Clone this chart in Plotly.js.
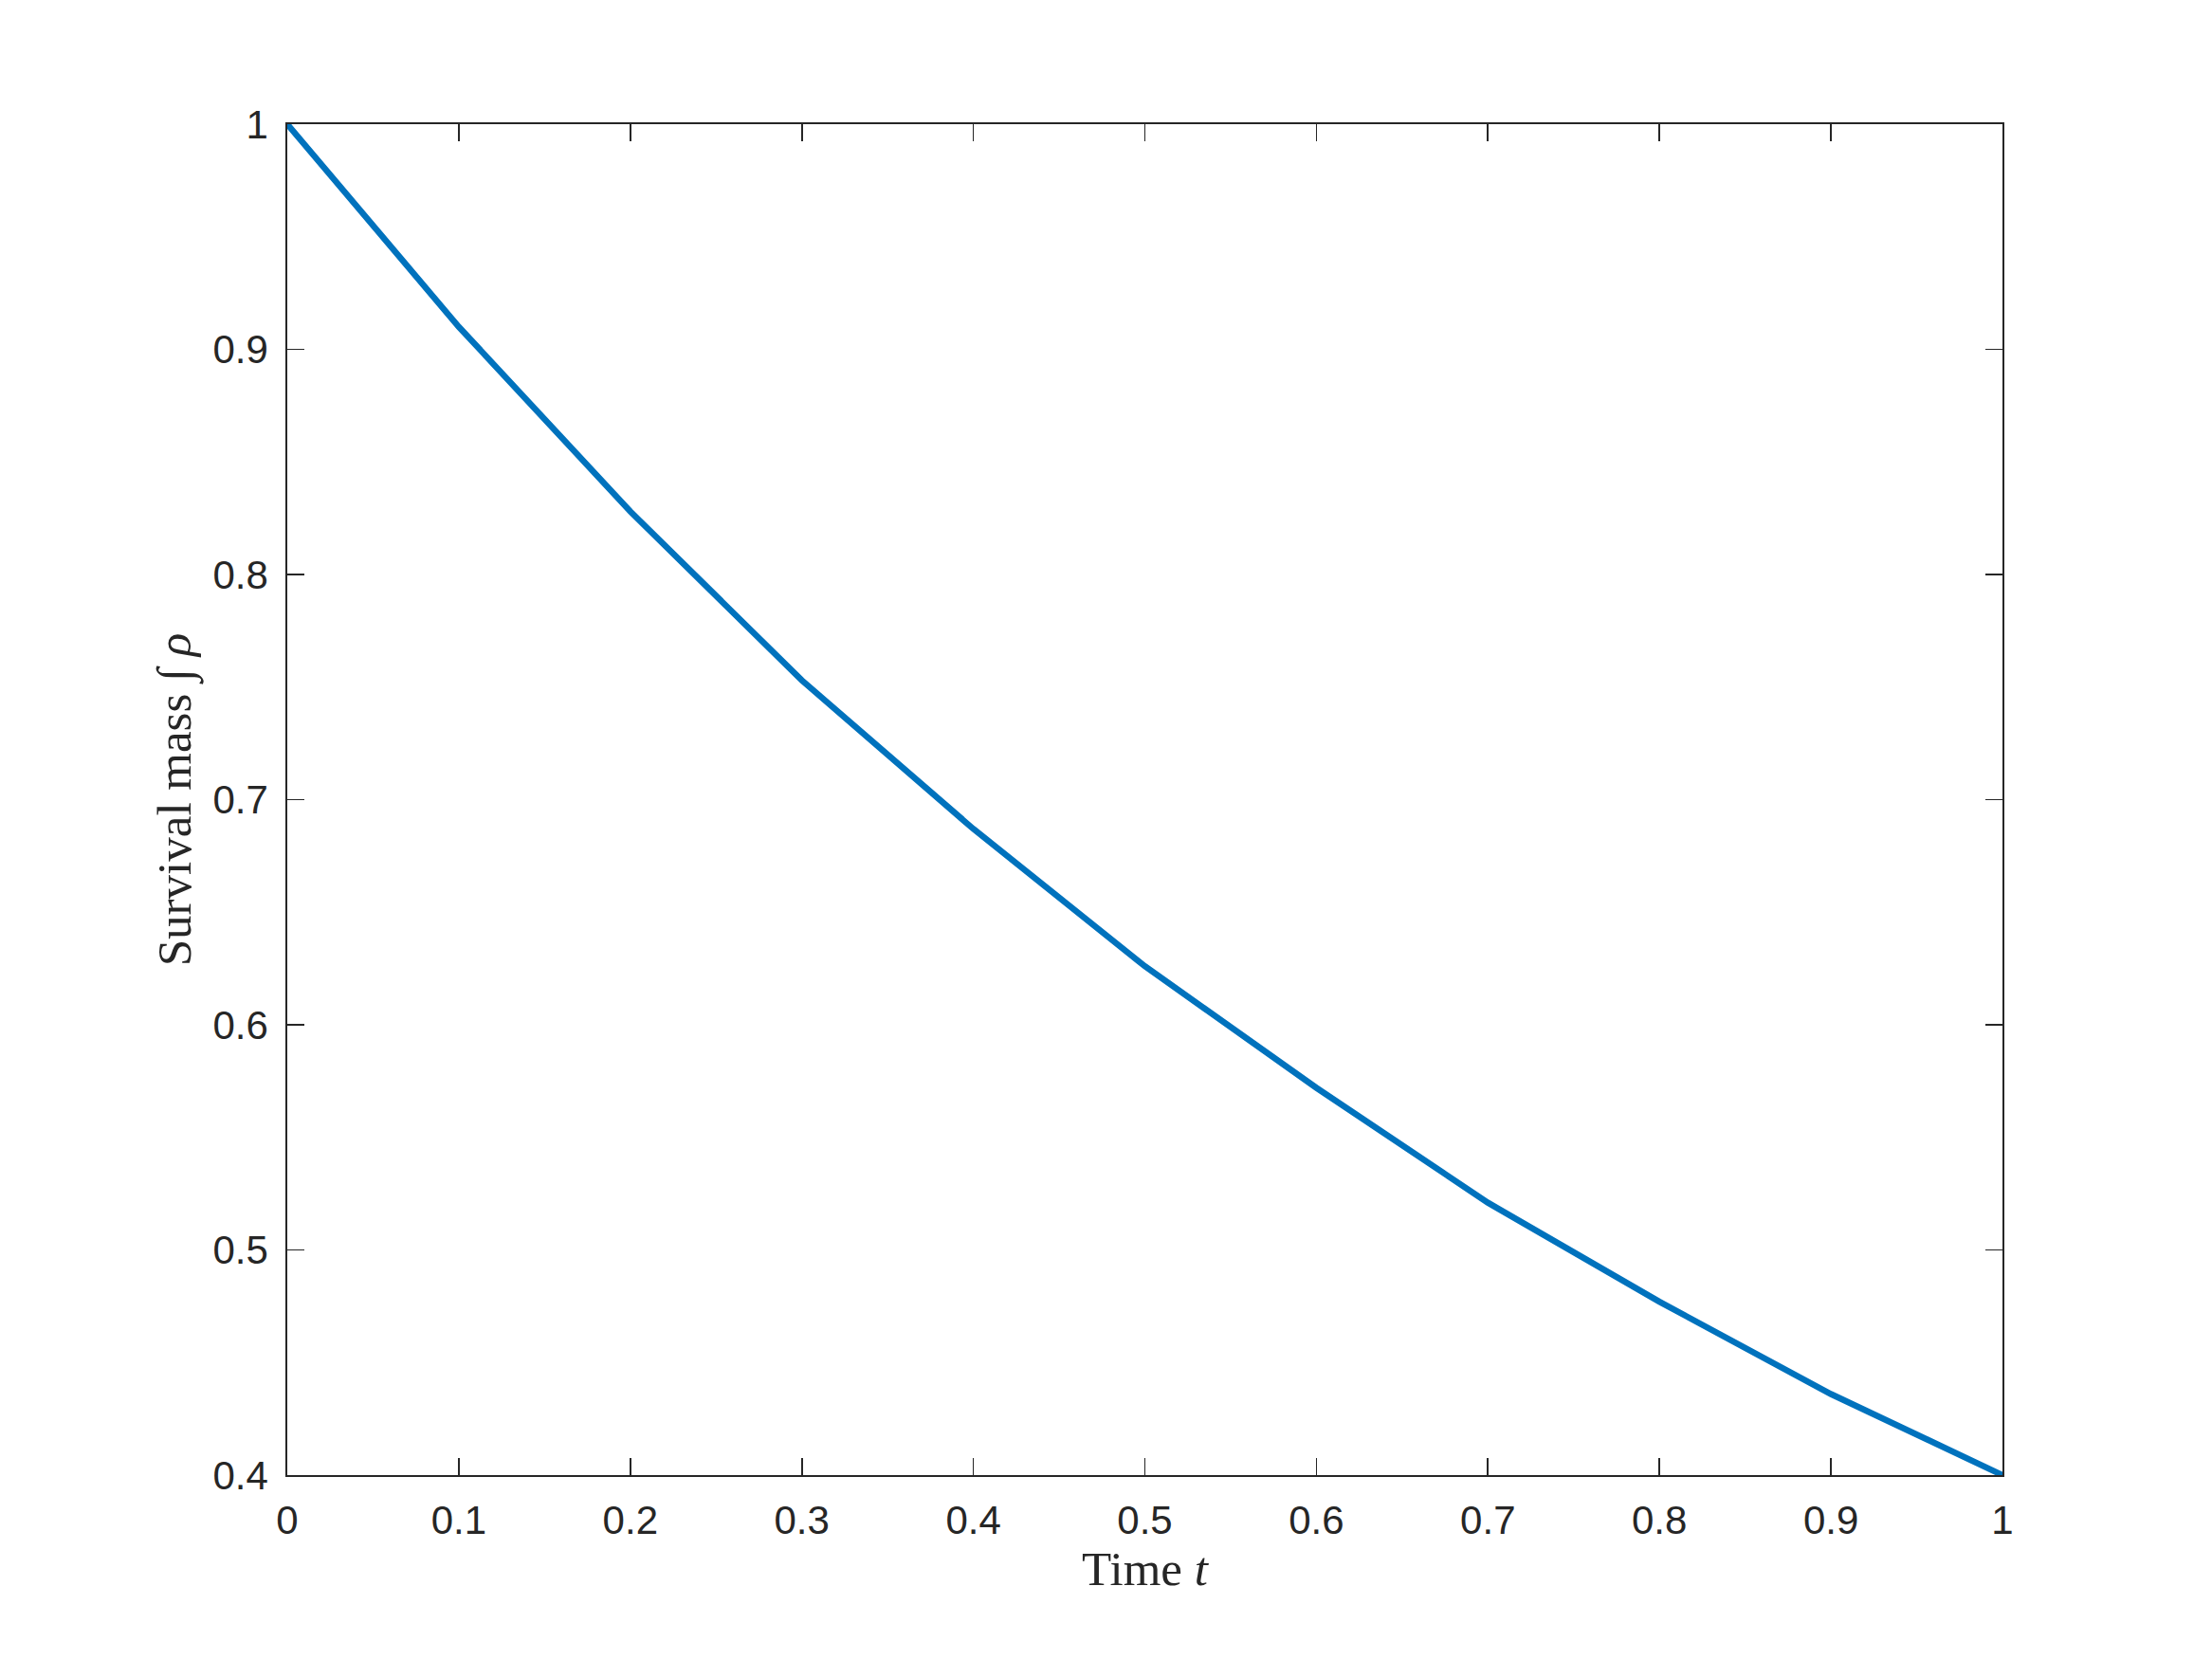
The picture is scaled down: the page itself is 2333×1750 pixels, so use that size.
<!DOCTYPE html>
<html>
<head>
<meta charset="utf-8">
<script src="https://cdn.plot.ly/plotly-3.0.1.min.js"></script>
<style>
  body { margin: 0; background: #fff; }
  #chart { width: 2333px; height: 1750px; }
</style>
</head>
<body>
<div id="chart"></div>
<script>
// survival mass over time
var time = [0, 0.1, 0.2, 0.3, 0.4, 0.5, 0.6, 0.7, 0.8, 0.9, 1.0];
var mass = [1.0, 0.910, 0.828, 0.753, 0.687, 0.626, 0.572, 0.521, 0.477, 0.436, 0.400];

var CHART = document.getElementById('chart');

var trace = {
  x: time,
  y: mass,
  type: 'scatter',
  mode: 'lines',
  line: {color: '#0072BD', width: 6.5},
  hoverinfo: 'skip'
};

var axisCommon = {
  showline: true,
  linecolor: '#262626',
  linewidth: 1.8,
  mirror: 'ticks',
  ticks: 'inside',
  ticklen: 18,
  tickwidth: 1.8,
  tickcolor: '#262626',
  showgrid: false,
  zeroline: false,
  dtick: 0.1,
  ticklabelstandoff: 10,
  tickfont: {family: 'Liberation Sans, Arial, sans-serif', size: 42, color: '#262626'}
};

var titleFont = {family: 'Liberation Serif, Times New Roman, serif', size: 51, color: '#262626'};

var layout = {
  width: 2333,
  height: 1750,
  margin: {l: 303, r: 221, t: 131, b: 194},
  paper_bgcolor: '#fff',
  plot_bgcolor: '#fff',
  showlegend: false,
  xaxis: Object.assign({}, axisCommon, {
    range: [0, 1],
    tick0: 0,
    title: {text: 'Time <i>t</i>', font: titleFont, standoff: 0}
  }),
  yaxis: Object.assign({}, axisCommon, {
    range: [0.4, 1],
    tick0: 0.4,
    title: {text: 'Survival mass ∫ <i>ρ</i>', font: titleFont, standoff: 6}
  })
};

Plotly.newPlot(CHART, [trace], layout, {displayModeBar: false, staticPlot: true});
</script>
</body>
</html>
